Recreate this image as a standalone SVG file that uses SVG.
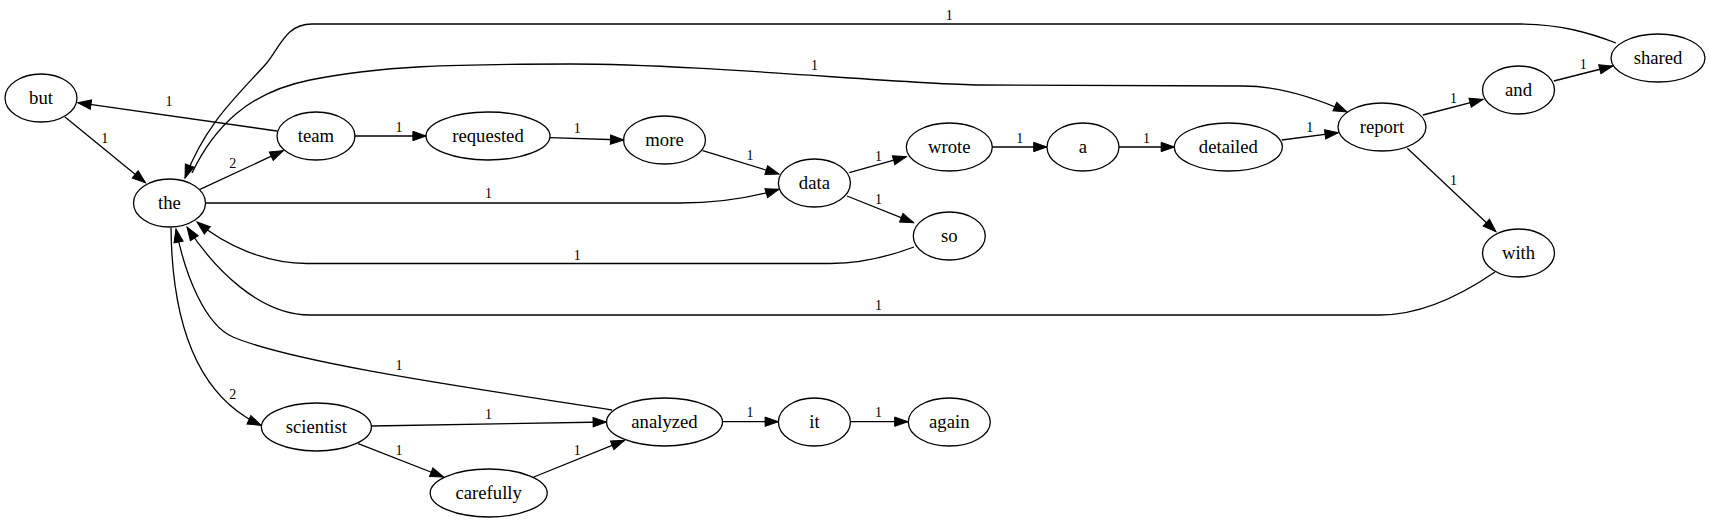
<svg xmlns="http://www.w3.org/2000/svg" width="1710" height="523" viewBox="0 0 1710 523">
<style>
.n ellipse{fill:none;stroke:#000;stroke-width:1.3}
.n text{font-family:"Liberation Serif","Times New Roman",serif;font-size:18.67px;text-anchor:middle;fill:#000}
#edges path{fill:none;stroke:#000;stroke-width:1.3;marker-end:url(#ah)}
#edges text{font-family:"Liberation Serif","Times New Roman",serif;font-size:14px;text-anchor:middle;fill:#000}
</style>
<defs>
<marker id="ah" markerUnits="userSpaceOnUse" markerWidth="16" markerHeight="12" viewBox="-1 -1 16 12" refX="13.3" refY="4.67" orient="auto">
<path d="M0,0 L13.3,4.67 L0,9.33 z" fill="#000" stroke="#000" stroke-width="1"/>
</marker>
</defs>
<rect width="1710" height="523" fill="#fff"/>
<g id="edges">
<path d="M64.7,116.7 L145.5,182.7"/><text x="104.7" y="142.7">1</text>
<path d="M277,131 L77.8,102.7"/><text x="169" y="105.7">1</text>
<path d="M200,189.3 L283.3,150.7"/><text x="232.7" y="168.3">2</text>
<path d="M354.5,136 L426.2,136"/><text x="399" y="132.3">1</text>
<path d="M549.8,137.7 L623.8,140"/><text x="577.3" y="133.3">1</text>
<path d="M702.7,150.7 L779,174"/><text x="750" y="160">1</text>
<path d="M205.5,203 L680,203 C720,203 750,198 779,189.3"/><text x="488.4" y="198.3">1</text>
<path d="M849.3,172.7 L906.4,156.7"/><text x="878.4" y="161">1</text>
<path d="M847,196 L913.6,222.7"/><text x="878.4" y="204">1</text>
<path d="M992.5,147 L1047,147"/><text x="1019.8" y="142.7">1</text>
<path d="M1119,147 L1174.5,147"/><text x="1146.5" y="142.7">1</text>
<path d="M1281.7,140 L1338.3,132.7"/><text x="1309.8" y="131.7">1</text>
<path d="M1422.9,115 L1483,99.3"/><text x="1453.5" y="102.7">1</text>
<path d="M1553.8,81 L1612.7,66"/><text x="1583.3" y="69.3">1</text>
<path d="M1407.3,148.3 L1496,231.7"/><text x="1453.5" y="185">1</text>
<path d="M1616,43 C1590,33 1560,24 1520,24 L312,24 C285,24 280,48 265,65 C235,98 205,125 185,178"/><text x="949.3" y="20">1</text>
<path d="M192,173 C215,125 250,92 310,80 C380,66 450,64 570,64 C700,64 900,84 980,85 L1243,86 C1280,86 1320,100 1347,112"/><text x="814.4" y="70">1</text>
<path d="M914,247 C890,256 860,263.5 830,263.5 L307,263.5 C265,263.5 225,245 197,222"/><text x="577.3" y="260">1</text>
<path d="M1495,272 C1460,296 1420,315 1380,315 L310,315 C260,315 215,270 187,227"/><text x="878.4" y="310.3">1</text>
<path d="M612,410 C500,392 300,365 233,337 C205,325 185,275 176,229"/><text x="399" y="369.7">1</text>
<path d="M171,228 C172,320 195,395 261,425.3"/><text x="232.7" y="399.3">2</text>
<path d="M371.6,426 L606.4,422"/><text x="488.4" y="419">1</text>
<path d="M358.2,443.7 L443.6,477"/><text x="399" y="454.7">1</text>
<path d="M533.8,477 L624.5,440.3"/><text x="577.3" y="454.7">1</text>
<path d="M722.7,421.7 L778.4,421.7"/><text x="750" y="417">1</text>
<path d="M850.7,421.7 L908,421.7"/><text x="878.4" y="417">1</text>
</g>
<g id="n-but" class="n"><ellipse cx="41" cy="98" rx="36" ry="24"/><text x="41" y="104">but</text></g>
<g id="n-the" class="n"><ellipse cx="169.5" cy="203" rx="36" ry="24"/><text x="169.5" y="209">the</text></g>
<g id="n-team" class="n"><ellipse cx="316" cy="136" rx="39" ry="24"/><text x="316" y="142">team</text></g>
<g id="n-requested" class="n"><ellipse cx="488" cy="136" rx="62" ry="24"/><text x="488" y="142">requested</text></g>
<g id="n-more" class="n"><ellipse cx="664.5" cy="140" rx="41" ry="24"/><text x="664.5" y="146">more</text></g>
<g id="n-data" class="n"><ellipse cx="814.4" cy="183" rx="36" ry="24"/><text x="814.4" y="189">data</text></g>
<g id="n-wrote" class="n"><ellipse cx="949.3" cy="147" rx="43" ry="24"/><text x="949.3" y="153">wrote</text></g>
<g id="n-a" class="n"><ellipse cx="1083" cy="147" rx="36" ry="24"/><text x="1083" y="153">a</text></g>
<g id="n-so" class="n"><ellipse cx="949.3" cy="236" rx="36" ry="24"/><text x="949.3" y="242">so</text></g>
<g id="n-detailed" class="n"><ellipse cx="1228.4" cy="147" rx="54" ry="24"/><text x="1228.4" y="153">detailed</text></g>
<g id="n-report" class="n"><ellipse cx="1382" cy="127" rx="44" ry="24"/><text x="1382" y="133">report</text></g>
<g id="n-and" class="n"><ellipse cx="1518.5" cy="90" rx="36" ry="24"/><text x="1518.5" y="96">and</text></g>
<g id="n-shared" class="n"><ellipse cx="1658" cy="58" rx="47" ry="24"/><text x="1658" y="64">shared</text></g>
<g id="n-with" class="n"><ellipse cx="1518.5" cy="253" rx="36" ry="24"/><text x="1518.5" y="259">with</text></g>
<g id="n-scientist" class="n"><ellipse cx="316.4" cy="427" rx="55" ry="24"/><text x="316.4" y="433">scientist</text></g>
<g id="n-carefully" class="n"><ellipse cx="488.7" cy="493" rx="58.5" ry="24"/><text x="488.7" y="499">carefully</text></g>
<g id="n-analyzed" class="n"><ellipse cx="664.5" cy="422" rx="58" ry="24"/><text x="664.5" y="428">analyzed</text></g>
<g id="n-it" class="n"><ellipse cx="814.4" cy="422" rx="36" ry="24"/><text x="814.4" y="428">it</text></g>
<g id="n-again" class="n"><ellipse cx="949.3" cy="422" rx="41" ry="24"/><text x="949.3" y="428">again</text></g>
</svg>
